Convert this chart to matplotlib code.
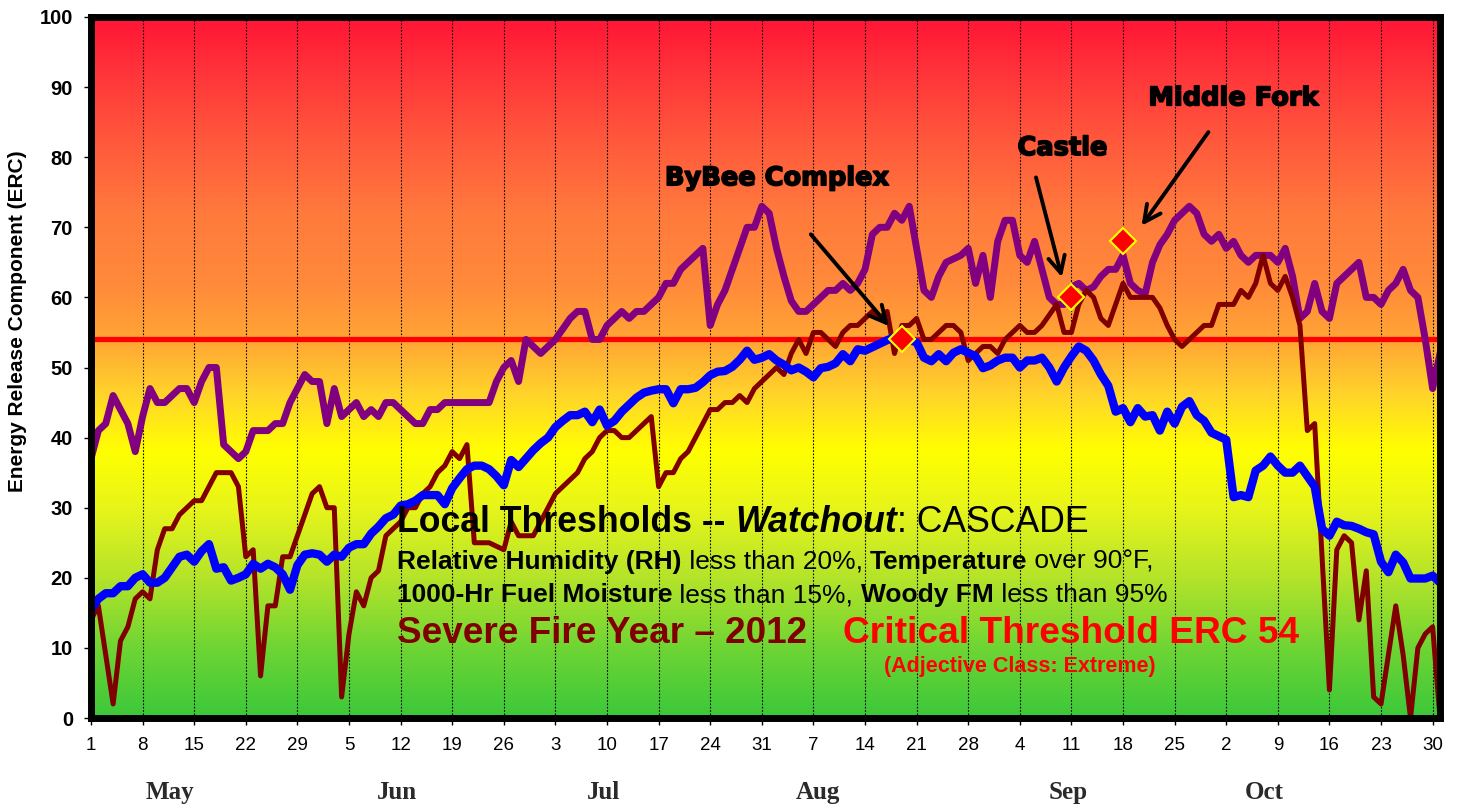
import numpy as np
import matplotlib
matplotlib.use("Agg")
import matplotlib.pyplot as plt
import matplotlib.patheffects as pe
from matplotlib.colors import LinearSegmentedColormap

plt.rcParams['font.family'] = ['Liberation Sans', 'DejaVu Sans']

# <---------- data : ERC per day, 1 May -> 31 Oct ---------->
# purple : max ERC
erc_max = [37, 41, 42, 46, 44, 42, 38, 43, 47, 45, 45, 46, 47, 47, 45, 48, 50, 50, 39, 38,
           37, 38, 41, 41, 41, 42, 42, 45, 47, 49, 48, 48, 42, 47, 43, 44, 45, 43, 44, 43,
           45, 45, 44, 43, 42, 42, 44, 44, 45, 45, 45, 45, 45, 45, 45, 48, 50, 51, 48, 54,
           53, 52, 53, 54, 55.5, 57, 58, 58, 54, 54, 56, 57, 58, 57, 58, 58, 59, 60, 62, 62,
           64, 65, 66, 67, 56, 59, 61, 64, 67, 70, 70, 73, 72, 67, 63, 59.5, 58, 58, 59, 60,
           61, 61, 62, 61, 62, 64, 69, 70, 70, 72, 71, 73, 67, 61, 60, 63, 65, 65.5, 66, 67,
           62, 66, 60, 68, 71, 71, 66, 65, 68, 64, 60, 59, 59, 61.5, 62, 61, 61.5, 63, 64, 64,
           66, 62, 61, 60.5, 65, 67.5, 69, 71, 72, 73, 72, 69, 68, 69, 67, 68, 66, 65, 66, 66,
           66, 65, 67, 63, 57, 58, 62, 58, 57, 62, 63, 64, 65, 60, 60, 59, 61, 62, 64, 61,
           60, 54, 47, 52]
# dark red : severe fire year 2012
erc_2012 = [14, 16, 9, 2, 11, 13, 17, 18, 17, 24, 27, 27, 29, 30, 31, 31, 33, 35, 35, 35,
            33, 23, 24, 6, 16, 16, 23, 23, 26, 29, 32, 33, 30, 30, 3, 12, 18, 16, 20, 21,
            26, 27, 28, 30, 30, 32, 33, 35, 36, 38, 37, 39, 25, 25, 25, 24.5, 24, 28, 26, 26,
            26, 28, 30, 32, 33, 34, 35, 37, 38, 40, 41, 41, 40, 40, 41, 42, 43, 33, 35, 35,
            37, 38, 40, 42, 44, 44, 45, 45, 46, 45, 47, 48, 49, 50, 49, 52, 54, 52, 55, 55,
            54, 53, 55, 56, 56, 57, 58, 57, 58, 52, 56, 56, 57, 54, 54, 55, 56, 56, 55, 51,
            52, 53, 53, 52, 54, 55, 56, 55, 55, 56, 57.5, 59, 55, 55, 59, 61, 60, 57, 56, 59,
            62, 60, 60, 60, 60, 58.5, 56, 54, 53, 54, 55, 56, 56, 59, 59, 59, 61, 60, 62, 66,
            62, 61, 63, 60, 56, 41, 42, 23, 4, 24, 26, 25, 14, 21, 3, 2, 9, 16, 9, 0,
            10, 12, 13, 0]
# blue : average ERC
erc_avg = [15.5, 17, 17.8, 17.8, 18.8, 18.8, 20, 20.5, 19.3, 19.3, 20, 21.5, 23, 23.3, 22.3, 23.8, 24.8, 21.3, 21.5, 19.6,
           20, 20.5, 22, 21.3, 22, 21.5, 20.5, 18.3, 21.8, 23.3, 23.5, 23.3, 22.3, 23.3, 23, 24.3, 24.8, 24.8, 26.3, 27.3,
           28.5, 29, 30.3, 30.5, 31, 31.8, 31.8, 31.8, 30.5, 32.8, 34.2, 35.5, 36, 36, 35.5, 34.5, 33.2, 36.8, 35.8, 37,
           38.2, 39.2, 40, 41.5, 42.4, 43.2, 43.2, 43.7, 42.2, 44, 41.7, 42.4, 43.7, 44.7, 45.7, 46.4, 46.7, 46.9, 46.9, 44.9,
           46.9, 46.9, 47.1, 47.9, 48.9, 49.4, 49.5, 50.1, 51.1, 52.4, 51.1, 51.4, 51.9, 51, 50.4, 49.6, 50, 49.4, 48.6, 49.9,
           50.1, 50.6, 51.9, 50.9, 52.6, 52.4, 52.9, 53.4, 53.9, 54.3, 54, 53.9, 53.6, 51.4, 50.9, 51.9, 50.9, 52.1, 52.6, 52.1,
           51.6, 49.9, 50.3, 51, 51.4, 51.4, 50, 51, 51, 51.4, 50, 48, 50, 51.6, 53, 52.4, 51, 49, 47.4, 43.7,
           44.2, 42.2, 44.2, 43, 43.2, 41, 43.7, 42, 44.4, 45.2, 43.2, 42.4, 40.7, 40.2, 39.7, 31.5, 31.8, 31.5, 35.3, 36,
           37.3, 36, 35, 35, 36, 34.5, 33, 27, 26, 28, 27.5, 27.4, 27, 26.5, 26.2, 22.3, 20.8, 23.3, 22.2, 19.9,
           19.9, 19.9, 20.3, 19.3]

tick_days = [1, 8, 15, 22, 29, 5, 12, 19, 26, 3, 10, 17, 24, 31, 7, 14, 21, 28, 4, 11, 18, 25, 2, 9, 16, 23, 30]
months = ['May', 'Jun', 'Jul', 'Aug', 'Sep', 'Oct']
threshold = 54

# fires (day index from 1 May, ERC)
fire_names = ['ByBee Complex', 'Castle', 'Middle Fork']
fire_day = [110, 133, 140]
fire_erc = [54, 60, 68]

# <---------- figure ---------->
W, H = 1462, 808
fig = plt.figure(figsize=(W / 100, H / 100), dpi=100)
ax = fig.add_axes([91 / W, 1 - 718 / H, (1440 - 91) / W, (718 - 17) / H])

x = np.arange(len(erc_avg))
xmax = len(erc_avg) - 1

# background gradient green -> yellow -> orange -> red
cmap = LinearSegmentedColormap.from_list('erc', [
    (0.00, '#3cc83a'), (0.10, '#6fd534'), (0.20, '#b5e42a'), (0.30, '#e8f51a'),
    (0.38, '#ffff00'), (0.46, '#ffd52a'), (0.54, '#ffa535'), (0.62, '#ff8a3a'),
    (0.72, '#ff7a3c'), (0.82, '#ff5a3c'), (0.92, '#ff353a'), (1.00, '#ff1535')])
ax.imshow(np.linspace(0, 1, 256).reshape(-1, 1), cmap=cmap, aspect='auto',
          extent=[0, xmax, 0, 100], origin='lower', zorder=0)

week_pos = np.arange(0, xmax, 7)
for p in week_pos:
    ax.axvline(p, color='black', lw=0.8, ls=(0, (1.5, 1.5)), zorder=1)

ax.axhline(threshold, color='#ff0000', lw=3.8, zorder=2)

ax.plot(x, erc_max, color='#800080', lw=5, solid_joinstyle='round', zorder=3)
ax.plot(x, erc_2012, color='#800000', lw=3.6, solid_joinstyle='round', zorder=4)
ax.plot(x, erc_avg, color='#0000ff', lw=6, solid_joinstyle='round', zorder=5)

ax.plot(fire_day, fire_erc, ls='none', marker='D', ms=13.5, mfc='#ff0000',
        mec='#ffff00', mew=1.5, zorder=7)

ax.set_xlim(0, xmax)
ax.set_ylim(0, 100)
ax.set_xticks(week_pos)
ax.set_xticklabels([str(d) for d in tick_days], fontsize=13.5)
ax.set_yticks(np.arange(0, 101, 10))
ax.set_yticklabels([str(v) for v in range(0, 101, 10)], fontsize=14.5, fontweight='bold')
ax.tick_params(axis='x', direction='out', length=5, width=1, pad=9)
ax.tick_params(axis='y', direction='out', length=5, width=1, pad=8)
for s in ax.spines.values():
    s.set_linewidth(5)
    s.set_color('black')
    s.set_zorder(8)

fig.text(18 / W, 1 - 321 / H, 'Energy Release Component (ERC)', rotation=90,
         ha='center', va='center', fontsize=15, fontweight='bold')

# month names under the day numbers
month_pos = [10.7, 41.5, 69.5, 98.6, 132.6, 159.2]
for m, p in zip(months, month_pos):
    ax.text(p, -0.106, m, transform=ax.get_xaxis_transform(), ha='center', va='center',
            fontsize=18, fontweight='bold', family='Liberation Serif', color='#2a2a2a')

# fire labels + arrows (data coords)
label_xy = [(93.1, 77.0), (131.8, 81.3), (155.0, 88.4)]
arrow_from = [(97.4, 69.3), (128.1, 77.5), (151.8, 83.9)]
arrow_to = [(108.5, 55.6), (131.8, 62.5), (142.3, 69.9)]
heavy = [pe.withStroke(linewidth=1.2, foreground='black')]
for name, lxy, a0, a1 in zip(fire_names, label_xy, arrow_from, arrow_to):
    ax.text(lxy[0], lxy[1], name, ha='center', va='center', fontsize=18.5,
            fontweight='bold', family='DejaVu Sans', zorder=9, path_effects=heavy)
    ax.annotate('', xy=a1, xytext=a0,
                arrowprops=dict(arrowstyle='->', lw=2.8, color='black', mutation_scale=30),
                zorder=9)

# <---------- text block ---------->
renderer = fig.canvas.get_renderer()


def text_width(s, **kw):
    t = fig.text(0, 0, s + '.', **kw)
    t2 = fig.text(0, 0, '.', **kw)
    w = t.get_window_extent(renderer).width - t2.get_window_extent(renderer).width
    t.remove()
    t2.remove()
    return w


def text_runs(px, py, runs, size):
    # px, py : left / baseline in pixels of the picture
    for s, weight, style, color in runs:
        kw = dict(fontsize=size, fontweight=weight, fontstyle=style, color=color)
        fig.text(px / W, 1 - py / H, s, ha='left', va='baseline', zorder=6, **kw)
        px += text_width(s, **kw)


text_runs(397, 532, [('Local Thresholds -- ', 'bold', 'normal', 'black'),
                     ('Watchout', 'bold', 'italic', 'black'),
                     (': CASCADE', 'normal', 'normal', 'black')], 25.7)
text_runs(397, 569, [('Relative Humidity (RH)', 'bold', 'normal', 'black'),
                     (' less than 20%, ', 'normal', 'normal', 'black'),
                     ('Temperature', 'bold', 'normal', 'black'),
                     (' over 90°F,', 'normal', 'normal', 'black')], 19)
text_runs(397, 602, [('1000-Hr Fuel Moisture', 'bold', 'normal', 'black'),
                     (' less than 15%, ', 'normal', 'normal', 'black'),
                     ('Woody FM', 'bold', 'normal', 'black'),
                     (' less than 95%', 'normal', 'normal', 'black')], 19)
text_runs(397, 643, [('Severe Fire Year \u2013 2012', 'bold', 'normal', '#800000')], 26.6)
text_runs(843, 643, [('Critical Threshold ERC 54', 'bold', 'normal', '#ff0000')], 26.7)
fig.text(1020 / W, 1 - 672 / H, '(Adjective Class: Extreme)', ha='center', va='baseline',
         fontsize=15.5, fontweight='bold', color='#ff0000')

fig.savefig('out.png', dpi=100)
